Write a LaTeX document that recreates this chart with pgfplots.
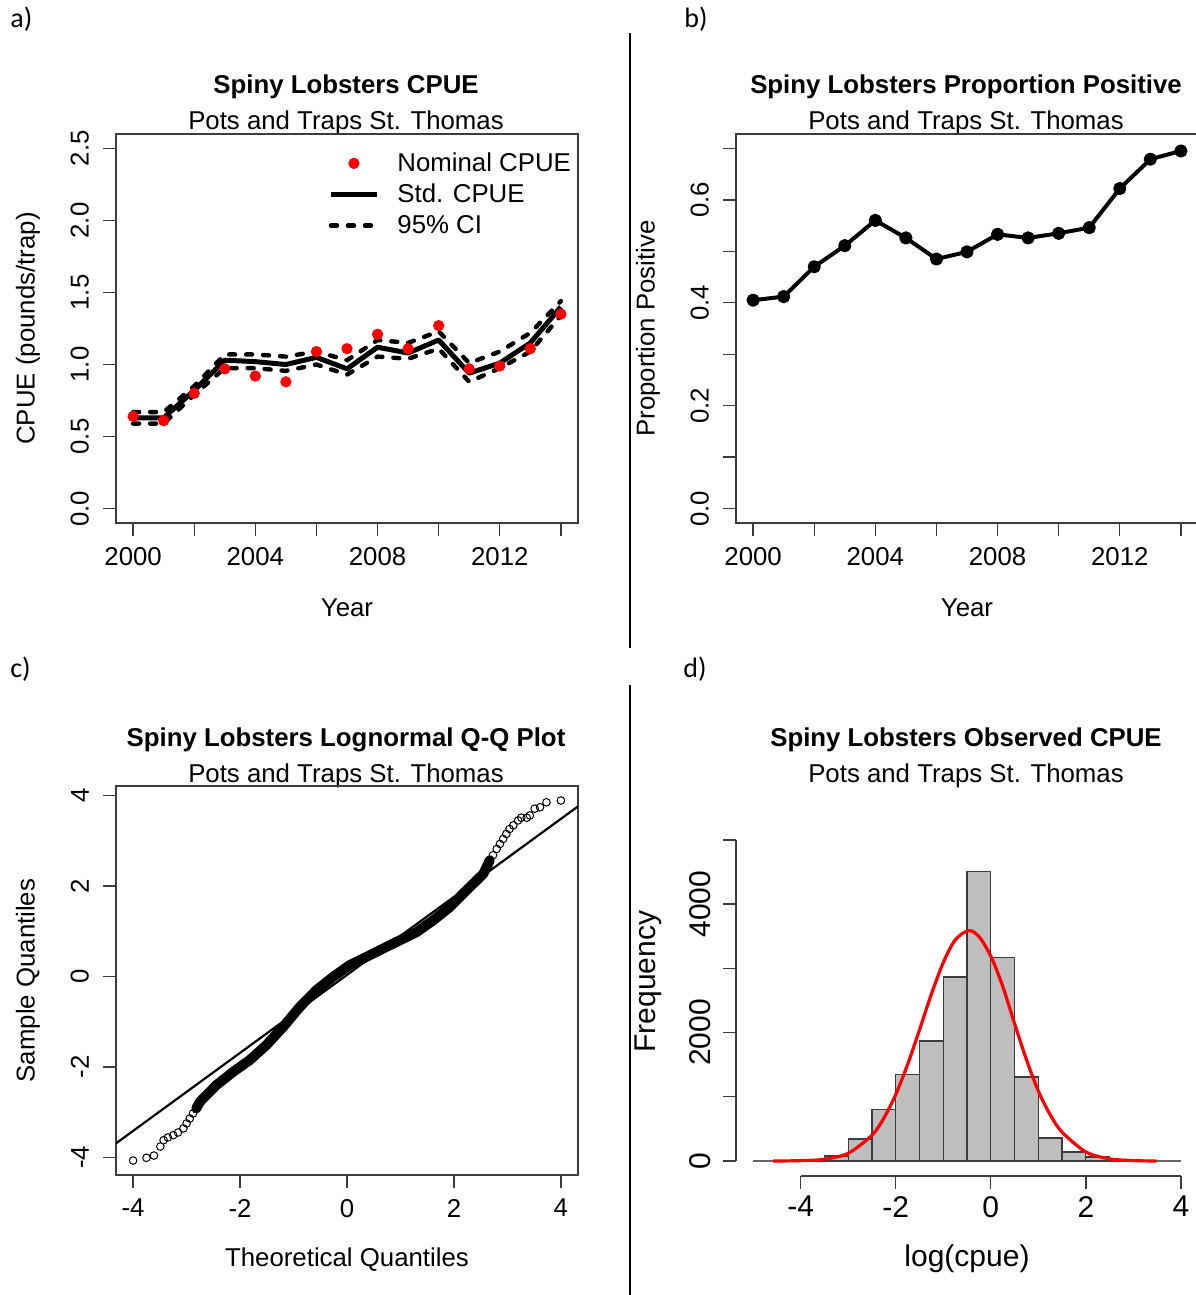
\documentclass[border=0pt]{standalone}
\usepackage{fontspec}
\setmainfont{Liberation Sans}
\newfontfamily\calib{Carlito}
\usepackage{pgfplots}
\pgfplotsset{compat=1.18}
\definecolor{axgray}{HTML}{3C3C3C}
\definecolor{histgray}{HTML}{BEBEBE}
\newcommand{\fA}{\fontsize{12.9}{15}\selectfont}
\newcommand{\fD}{\fontsize{15}{18}\selectfont}
\pgfplotsset{
  rstyle/.style={
    scale only axis, width=231pt, height=194.5pt, anchor=south west,
    axis line style={axgray, line width=0.7pt},
    tick align=outside, major tick length=6.5pt,
    every tick/.style={axgray, line width=0.7pt},
    xtick pos=left, ytick pos=left,
    /pgf/number format/assume math mode=true,
    /pgf/number format/1000 sep={},
    tick label style={font=\fA},
    xticklabel style={anchor=north},
    yticklabel style={rotate=90, anchor=south},
    xticklabel shift=2pt, yticklabel shift=3.5pt,
    every axis x label/.style={at={(axis description cs:0.5,0)}, yshift=-42.5pt, anchor=center, font=\fA},
    every axis y label/.style={at={(axis description cs:0,0.5)}, xshift=-44pt, rotate=90, anchor=center, font=\fA},
    legend image code/.code={\draw[mark repeat=2,mark phase=2,#1] plot coordinates {(0pt,0pt) (11.5pt,0pt) (23pt,0pt)};},
  },
  cidash/.style={black, line width=2.2pt, line cap=round, dash pattern=on 3pt off 5.5pt},
}
\begin{document}
\begin{tikzpicture}
\useasboundingbox (0,0) rectangle (597.5pt,-647.5pt);
% panel letters and separators
\node[font=\calib\fontsize{14}{16}\selectfont, anchor=base west, inner sep=0] at (5pt,-13.8pt) {a)};
\node[font=\calib\fontsize{14}{16}\selectfont, anchor=base west, inner sep=0] at (342pt,-13.8pt) {b)};
\node[font=\calib\fontsize{14}{16}\selectfont, anchor=base west, inner sep=0] at (5pt,-338.5pt) {c)};
\node[font=\calib\fontsize{14}{16}\selectfont, anchor=base west, inner sep=0] at (341.5pt,-338.5pt) {d)};
\draw[black, line width=1pt] (315pt,-16.5pt) -- (315pt,-324pt);
\draw[black, line width=1pt] (315pt,-342.5pt) -- (315pt,-647.5pt);
% titles
\node[font=\fA\bfseries, anchor=base] at (173pt,-47pt) {Spiny Lobsters CPUE};
\node[font=\fA, anchor=base] at (173pt,-65pt) {Pots and Traps St. Thomas};
\node[font=\fA\bfseries, anchor=base] at (483pt,-47pt) {Spiny Lobsters Proportion Positive};
\node[font=\fA, anchor=base] at (483pt,-65pt) {Pots and Traps St. Thomas};
\node[font=\fA\bfseries, anchor=base] at (173pt,-373pt) {Spiny Lobsters Lognormal Q-Q Plot};
\node[font=\fA, anchor=base] at (173pt,-391pt) {Pots and Traps St. Thomas};
\node[font=\fA\bfseries, anchor=base] at (483pt,-373pt) {Spiny Lobsters Observed CPUE};
\node[font=\fA, anchor=base] at (483pt,-391pt) {Pots and Traps St. Thomas};

% ---------------- panel a
\begin{axis}[rstyle, at={(58pt,-261.5pt)},
  xmin=1999.44, xmax=2014.56, ymin=-0.1, ymax=2.6,
  xtick={2000,2002,2004,2006,2008,2010,2012,2014},
  xticklabels={2000,,2004,,2008,,2012,},
  ytick={0,0.5,1,1.5,2,2.5}, yticklabels={0.0,0.5,1.0,1.5,2.0,2.5},
  xlabel={Year}, ylabel={CPUE (pounds/trap)},
  legend style={draw=none, fill=none, font=\fA, at={(axis description cs:0.446,0.974)}, anchor=north west, column sep=7pt, row sep=0.8pt},
  legend cell align=left]
\addplot[only marks, mark=*, mark size=2.6pt, mark options={draw=red, fill=red}] coordinates {
(2000,0.64) (2001,0.61) (2002,0.80) (2003,0.97) (2004,0.92) (2005,0.88) (2006,1.09) (2007,1.11)
(2008,1.21) (2009,1.11) (2010,1.27) (2011,0.97) (2012,0.99) (2013,1.11) (2014,1.35)};
\addlegendentry{Nominal CPUE}
\addplot[black, line width=2.5pt, line join=round] coordinates {
(2000,0.63) (2001,0.63) (2002,0.82) (2003,1.03) (2004,1.02) (2005,1.00) (2006,1.05) (2007,0.97)
(2008,1.12) (2009,1.08) (2010,1.17) (2011,0.94) (2012,1.01) (2013,1.15) (2014,1.40)};
\addlegendentry{Std. CPUE}
\addplot[cidash] coordinates {
(2000,0.67) (2001,0.67) (2002,0.85) (2003,1.07) (2004,1.07) (2005,1.055) (2006,1.09) (2007,1.03)
(2008,1.17) (2009,1.15) (2010,1.23) (2011,1.01) (2012,1.09) (2013,1.22) (2014,1.44)};
\addlegendentry{95\% CI}
\addplot[cidash, forget plot] coordinates {
(2000,0.59) (2001,0.59) (2002,0.79) (2003,0.975) (2004,0.975) (2005,0.956) (2006,1.00) (2007,0.93)
(2008,1.055) (2009,1.04) (2010,1.11) (2011,0.88) (2012,0.975) (2013,1.09) (2014,1.34)};
\end{axis}

% ---------------- panel b
\begin{axis}[rstyle, at={(368pt,-261.5pt)},
  xmin=1999.44, xmax=2014.56, ymin=-0.028, ymax=0.728,
  xtick={2000,2002,2004,2006,2008,2010,2012,2014},
  xticklabels={2000,,2004,,2008,,2012,},
  ytick={0,0.1,0.2,0.3,0.4,0.5,0.6,0.7}, yticklabels={0.0,,0.2,,0.4,,0.6,},
  xlabel={Year}, ylabel={Proportion Positive}]
\addplot[black, line width=2pt, line join=round, mark=*, mark size=2.3pt, mark options={fill=black}] coordinates {
(2000,0.405) (2001,0.412) (2002,0.470) (2003,0.511) (2004,0.560) (2005,0.526) (2006,0.485) (2007,0.499)
(2008,0.533) (2009,0.526) (2010,0.535) (2011,0.546) (2012,0.622) (2013,0.679) (2014,0.695)};
\end{axis}

% ---------------- panel c
\begin{axis}[rstyle, at={(58pt,-587.5pt)},
  xmin=-4.32, xmax=4.32, ymin=-4.39, ymax=4.21,
  xtick={-4,-2,0,2,4}, ytick={-4,-2,0,2,4},
  xlabel={Theoretical Quantiles}, ylabel={Sample Quantiles}]
\addplot[black, line width=5pt, line cap=round, line join=round] coordinates {
(-2.82,-2.92) (-2.75,-2.77) (-2.44,-2.40) (-2.13,-2.11) (-1.82,-1.85) (-1.51,-1.52) (-1.19,-1.11)
(-0.88,-0.67) (-0.57,-0.30) (-0.26,-0.01) (0.05,0.25) (0.36,0.43) (0.68,0.62) (0.99,0.80)
(1.30,0.98) (1.61,1.24) (1.92,1.53) (2.23,1.90) (2.55,2.27) (2.67,2.57)};
\addplot[only marks, mark=o, mark size=1.9pt, mark options={black, line width=0.5pt}] coordinates {
(-4.00,-4.07) (-3.75,-4.01) (-3.61,-3.96) (-3.49,-3.76) (-3.43,-3.62) (-3.35,-3.56) (-3.25,-3.51)
(-3.16,-3.45) (-3.06,-3.36) (-3.00,-3.25) (-2.94,-3.14) (-2.88,-3.03) (-2.82,-2.92)
(2.67,2.57) (2.73,2.68) (2.80,2.82) (2.86,2.93) (2.92,3.04) (2.98,3.15) (3.04,3.26) (3.11,3.34)
(3.20,3.45) (3.26,3.51) (3.36,3.51) (3.42,3.56) (3.51,3.71) (3.61,3.74) (3.73,3.85) (4.00,3.89)};
\addplot[black, line width=1.1pt] coordinates {(-4.32,-3.69) (4.32,3.76)};
\end{axis}

% ---------------- panel d
\begin{axis}[rstyle, at={(368pt,-588pt)},
  xmin=-5.36, xmax=4.36, ymin=-234, ymax=5825,
  axis line style={draw=none}, clip=false,
  xtick={-4,-2,0,2,4}, ytick={0,1000,2000,3000,4000,5000}, yticklabels={0,,2000,,4000,},
  tick label style={font=\fD},
  xticklabel shift=0pt, yticklabel shift=2.6pt,
  xlabel style={font=\fD, yshift=1pt}, ylabel style={font=\fD},
  xlabel={log(cpue)}, ylabel={Frequency}]
\addplot[black!60, line width=0.7pt] coordinates {(-5,0) (4,0)};
\addplot[ybar interval, fill=histgray, draw=axgray, line width=0.6pt] coordinates {
(-4,10) (-3.5,78) (-3,343) (-2.5,805) (-2,1350) (-1.5,1869) (-1,2866) (-0.5,4507) (0,3172)
(0.5,1308) (1,358) (1.5,140) (2,62) (2.5,15) (3,0)};
\addplot[red, line width=1.6pt, smooth] coordinates {
(-4.58,0) (-4,5) (-3.5,27) (-3,120) (-2.5,402) (-2.25,667) (-2,1034) (-1.75,1503) (-1.5,2041)
(-1.25,2598) (-1,3090) (-0.75,3441) (-0.47,3588) (-0.25,3497) (0,3191) (0.25,2724) (0.5,2140)
(0.75,1580) (1,1090) (1.25,720) (1.5,450) (2,141) (2.5,33) (3,6) (3.49,0)};
\addplot[axgray, line width=0.7pt] coordinates {(-4,-234) (4,-234)};
\addplot[axgray, line width=0.7pt] coordinates {(-5.36,0) (-5.36,5000)};
\end{axis}
\end{tikzpicture}
\end{document}
